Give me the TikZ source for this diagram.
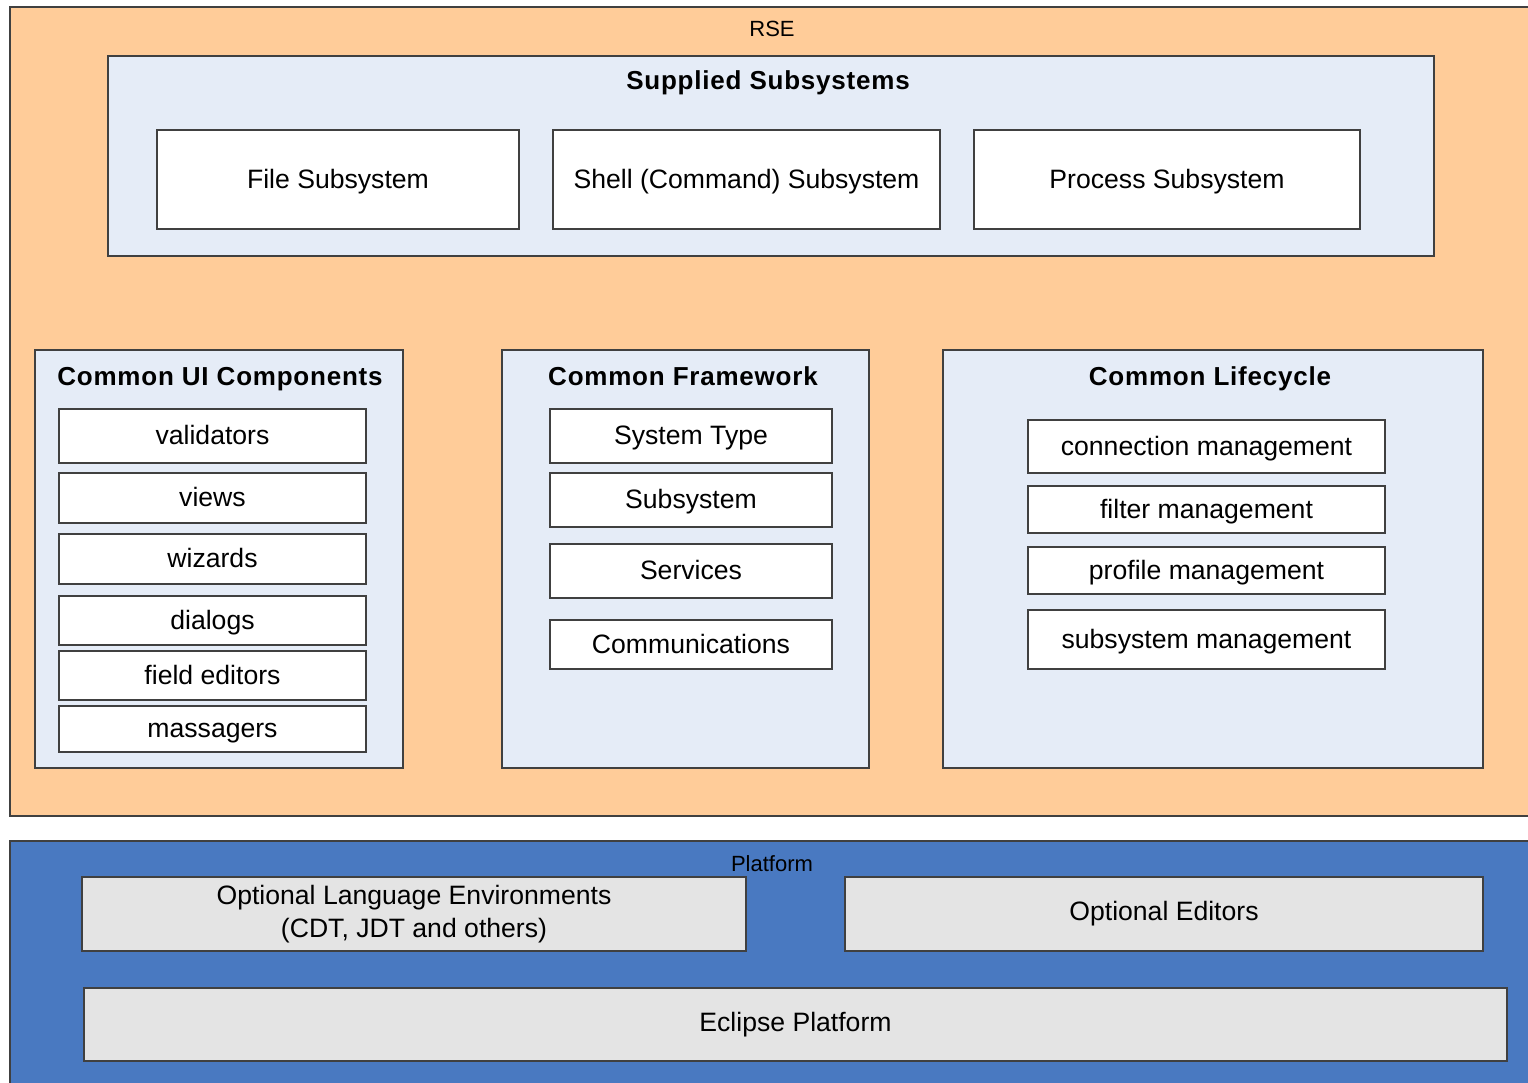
\documentclass[tikz,border=0pt]{standalone}
\usepackage{fontspec}
\setmainfont{Liberation Sans}
\newfontfamily\titlefont[LetterSpace=3]{Liberation Sans}
\definecolor{rseorange}{HTML}{FFCC99}
\definecolor{layerblue}{HTML}{4979C1}
\definecolor{groupblue}{HTML}{E5ECF7}
\definecolor{platgrey}{HTML}{E4E4E4}
\tikzset{
  box/.style={rectangle,draw=black!75,line width=0.6pt,inner sep=0pt,font=\fontsize{13.3}{16.5}\selectfont},
  item/.style={box,fill=white,text height=10.6pt,text depth=1.8pt},
  group/.style={box,fill=groupblue},
  plat/.style={box,fill=platgrey,align=center},
  grouptitle/.style={inner sep=0pt,anchor=base,font=\titlefont\bfseries\fontsize{13}{15}\selectfont},
  layertitle/.style={inner sep=0pt,anchor=base,font=\fontsize{11}{13}\selectfont}
}
\begin{document}
\begin{tikzpicture}[x=0.5pt,y=-0.5pt]
\useasboundingbox (0,0) rectangle (1528,1083);
\clip (0,0) rectangle (1528,1083);

% RSE layer
\path (775,411.5) node[box,fill=rseorange,minimum width=765pt,minimum height=404.5pt] (rse) {};
\path (772,36) node[layertitle] (rsetitle) {RSE};

% supplied subsystems
\path (771,156) node[group,minimum width=663pt,minimum height=100pt] (supplied) {};
\path (768,89) node[grouptitle] (suppliedtitle) {Supplied Subsystems};
\path (338,179.5) node[item,minimum width=181pt,minimum height=49.5pt] (file) {File Subsystem};
\path (746.5,179.5) node[item,minimum width=193.5pt,minimum height=49.5pt] (shell) {Shell (Command) Subsystem};
\path (1167,179.5) node[item,minimum width=193pt,minimum height=49.5pt] (process) {Process Subsystem};

% common UI components
\path (219,559) node[group,minimum width=184pt,minimum height=209pt] (ui) {};
\path (220,385) node[grouptitle] (uititle) {Common UI Components};
\path (212.5,436) node[item,minimum width=153.5pt,minimum height=27pt] (validators) {validators};
\path (212.5,498) node[item,minimum width=153.5pt,minimum height=25pt] (views) {views};
\path (212.5,559) node[item,minimum width=153.5pt,minimum height=25pt] (wizards) {wizards};
\path (212.5,620.5) node[item,minimum width=153.5pt,minimum height=24.5pt] (dialogs) {dialogs};
\path (212.5,675.5) node[item,minimum width=153.5pt,minimum height=24.5pt] (fieldeditors) {field editors};
\path (212.5,729) node[item,minimum width=153.5pt,minimum height=23pt] (massagers) {massagers};

% common framework
\path (685.5,559) node[group,minimum width=183.5pt,minimum height=209pt] (framework) {};
\path (683,385) node[grouptitle] (frameworktitle) {Common Framework};
\path (691,436) node[item,minimum width=141pt,minimum height=27pt] (systemtype) {System Type};
\path (691,500) node[item,minimum width=141pt,minimum height=27pt] (subsystem) {Subsystem};
\path (691,571) node[item,minimum width=141pt,minimum height=27pt] (services) {Services};
\path (691,644.5) node[item,minimum width=141pt,minimum height=24.5pt] (communications) {Communications};

% common lifecycle
\path (1213,559) node[group,minimum width=270pt,minimum height=209pt] (lifecycle) {};
\path (1210,385) node[grouptitle] (lifecycletitle) {Common Lifecycle};
\path (1206.5,446.5) node[item,minimum width=178.5pt,minimum height=26.5pt] (connmgmt) {connection management};
\path (1206.5,509.5) node[item,minimum width=178.5pt,minimum height=23.5pt] (filtermgmt) {filter management};
\path (1206.5,570.5) node[item,minimum width=178.5pt,minimum height=23.5pt] (profilemgmt) {profile management};
\path (1206.5,639.5) node[item,minimum width=178.5pt,minimum height=29.5pt] (subsysmgmt) {subsystem management};

% platform layer
\path (775,968) node[box,fill=layerblue,minimum width=765pt,minimum height=127pt] (platform) {};
\path (772,871) node[layertitle] (platformtitle) {Platform};
\path (414,914) node[plat,minimum width=332pt,minimum height=37pt] (langenv) {Optional Language Environments\\(CDT, JDT and others)};
\path (1164,914) node[plat,minimum width=319pt,minimum height=37pt] (editors) {Optional Editors};
\path (795.5,1024.5) node[plat,minimum width=711.5pt,minimum height=36.5pt] (eclipse) {Eclipse Platform};
\end{tikzpicture}
\end{document}
